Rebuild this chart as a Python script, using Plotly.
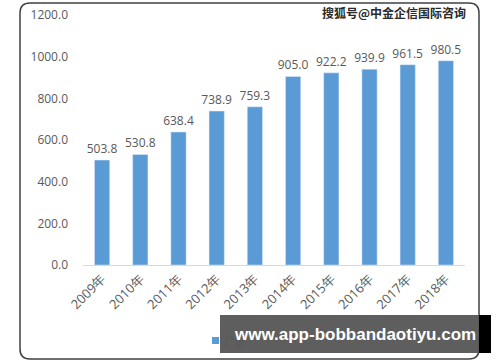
import plotly.graph_objects as go

years = ["2009年", "2010年", "2011年", "2012年", "2013年", "2014年", "2015年", "2016年", "2017年", "2018年"]
values = [503.8, 530.8, 638.4, 738.9, 759.3, 905.0, 922.2, 939.9, 961.5, 980.5]
y_ticks = [0, 200, 400, 600, 800, 1000, 1200]
series_name = "产量"

W, H = 500, 362
L, R, T, B = 83, 35, 15, 97
pw, ph = W - L - R, H - T - B

def px(x):
    return (x - L) / pw

def py(y):
    return (H - B - y) / ph

fig = go.Figure()
fig.add_trace(go.Bar(
    x=years, y=values, name=series_name,
    marker=dict(color="#5B9BD5"),
    text=[f"{v:.1f}" for v in values], textposition="outside", constraintext="none",
    textfont=dict(size=12, color="#595959", family="Open Sans"),
    cliponaxis=False,
))

# rounded border
x0, x1, y0, y1, r = 20, 479, 3, 359, 10
rx, ry = r / pw, r / ph
path = (f"M {px(x0)+rx},{py(y0)} L {px(x1)-rx},{py(y0)} Q {px(x1)},{py(y0)} {px(x1)},{py(y0)-ry} "
        f"L {px(x1)},{py(y1)+ry} Q {px(x1)},{py(y1)} {px(x1)-rx},{py(y1)} "
        f"L {px(x0)+rx},{py(y1)} Q {px(x0)},{py(y1)} {px(x0)},{py(y1)+ry} "
        f"L {px(x0)},{py(y0)-ry} Q {px(x0)},{py(y0)} {px(x0)+rx},{py(y0)} Z")

shapes = [
    dict(type="path", xref="paper", yref="paper", path=path,
         line=dict(color="#404040", width=1.5), layer="below"),
    # legend swatch
    dict(type="rect", xref="paper", yref="paper", x0=px(212), x1=px(219), y0=py(337), y1=py(344),
         fillcolor="#5B9BD5", line=dict(width=0)),
    dict(type="rect", xref="paper", yref="paper", x0=px(220), x1=px(479), y0=py(315), y1=py(353),
         fillcolor="rgba(85,85,85,0.95)", line=dict(width=0), layer="above"),
    dict(type="rect", xref="paper", yref="paper", x0=px(479), x1=px(491), y0=py(315), y1=py(353),
         fillcolor="#000000", line=dict(width=0), layer="above"),
]

annotations = [
    dict(xref="paper", yref="paper", x=px(222), y=py(340), xanchor="left", yanchor="middle",
         text=series_name, showarrow=False,
         font=dict(size=11, color="#595959", family="Noto Sans CJK SC")),
    dict(xref="paper", yref="paper", x=px(468), y=py(13), xanchor="right", yanchor="middle",
         text="<b>搜狐号@中金企信国际咨询</b>", showarrow=False,
         font=dict(size=12, color="#2a2a2a", family="Noto Sans CJK SC")),
    dict(xref="paper", yref="paper", x=px(478), y=py(334), xanchor="right", yanchor="middle",
         text="<b>www.app-bobbandaotiyu.com</b>", showarrow=False,
         font=dict(size=17, color="#ffffff", family="Liberation Sans")),
]

fig.update_layout(
    width=W, height=H,
    margin=dict(l=L, r=R, t=T, b=B, autoexpand=False),
    paper_bgcolor="white", plot_bgcolor="white",
    bargap=0.6,
    showlegend=False,
    shapes=shapes, annotations=annotations,
    font=dict(family="Open Sans", color="#595959"),
)
fig.update_xaxes(
    type="category", tickangle=-45, showline=True, linecolor="#D9D9D9", linewidth=1,
    showgrid=False, ticks="", automargin=False,
    tickfont=dict(size=13, color="#595959", family="Open Sans"),
)
fig.update_yaxes(
    range=[0, 1200], tickvals=y_ticks, ticktext=[f"{v:.1f}" for v in y_ticks],
    showgrid=False, zeroline=False, showline=False, ticks="", automargin=False,
    tickfont=dict(size=12, color="#595959", family="Open Sans"), ticklabelstandoff=14,
)

fig.write_html("out.html", config={"displayModeBar": False},
               post_script="document.body.style.margin='0';document.body.style.overflow='hidden';")
